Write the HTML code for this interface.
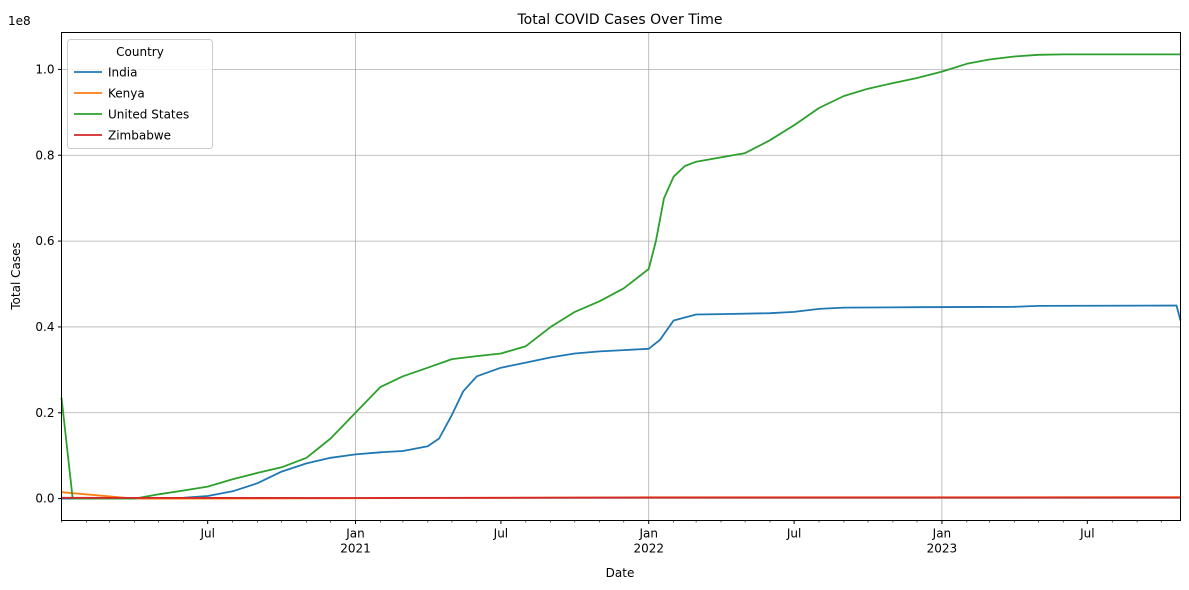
<!DOCTYPE html>
<html><head><meta charset="utf-8"><style>
body{margin:0;background:#fff;}
svg{display:block;font-family:"DejaVu Sans","Liberation Sans",sans-serif;}
</style></head><body>
<svg id="chart" width="1189" height="590" xmlns="http://www.w3.org/2000/svg">
<text x="620" y="24" font-size="14" text-anchor="middle">Total COVID Cases Over Time</text>
<g id="grid"></g>
<g id="series"></g>
<rect x="61.5" y="32.5" width="1119" height="488" fill="none" stroke="#000" stroke-width="1"/>
<g id="axes"></g>
<text x="8" y="25" font-size="12">1e8</text>
<text x="620" y="577" font-size="12" text-anchor="middle">Date</text>
<text x="20" y="276" font-size="12" text-anchor="middle" transform="rotate(-90 20 276)">Total Cases</text>
<g id="legend"></g>
</svg>
<script>
const seriesNames = ["India","Kenya","United States","Zimbabwe"];
const seriesColors = ["#1f77b4","#ff7f0e","#2ca02c","#d62728"];
// values in millions of cases
const indiaDates = ["2020-01-01","2020-04-01","2020-06-01","2020-07-01","2020-08-01","2020-09-01","2020-10-01","2020-11-01","2020-12-01","2021-01-01","2021-02-01","2021-03-01","2021-04-01","2021-04-15","2021-05-01","2021-05-15","2021-06-01","2021-07-01","2021-08-01","2021-09-01","2021-10-01","2021-11-01","2021-12-01","2022-01-01","2022-01-15","2022-02-01","2022-03-01","2022-04-01","2022-06-01","2022-07-01","2022-08-01","2022-09-01","2022-12-01","2023-04-01","2023-05-01","2023-10-20","2023-10-25"];
const indiaValues = [0,0,0.2,0.6,1.7,3.6,6.3,8.2,9.5,10.3,10.8,11.1,12.2,14,19.5,25,28.5,30.5,31.7,32.9,33.8,34.3,34.6,34.9,37,41.5,42.9,43,43.2,43.5,44.2,44.5,44.6,44.7,44.9,45,41.5];
const kenyaDates = ["2020-01-01","2020-04-01","2020-07-01","2021-01-01","2021-07-01","2022-01-01","2023-10-25"];
const kenyaValues = [1.5,0,0.01,0.1,0.2,0.3,0.34];
const usDates = ["2020-01-01","2020-01-15","2020-04-01","2020-05-01","2020-06-01","2020-07-01","2020-08-01","2020-09-01","2020-10-01","2020-11-01","2020-12-01","2021-01-01","2021-02-01","2021-03-01","2021-04-01","2021-05-01","2021-06-01","2021-07-01","2021-08-01","2021-09-01","2021-10-01","2021-11-01","2021-12-01","2022-01-01","2022-01-10","2022-01-20","2022-02-01","2022-02-15","2022-03-01","2022-04-01","2022-05-01","2022-06-01","2022-07-01","2022-08-01","2022-09-01","2022-10-01","2022-11-01","2022-12-01","2023-01-01","2023-02-01","2023-03-01","2023-04-01","2023-05-01","2023-06-01","2023-10-25"];
const usValues = [23.5,0,0,1,1.9,2.8,4.5,6,7.3,9.5,14,20,26,28.5,30.5,32.5,33.2,33.8,35.5,40,43.5,46,49,53.5,60,70,75,77.5,78.5,79.5,80.5,83.5,87,91,93.8,95.5,96.8,98,99.5,101.3,102.3,103,103.4,103.5,103.5];
const zimDates = ["2020-01-01","2021-01-01","2022-01-01","2023-10-25"];
const zimValues = [0.2,0.15,0.25,0.26];
const yTicks = [0,20,40,60,80,100];
const yTickLabels = ["0.0","0.2","0.4","0.6","0.8","1.0"];
const xMajor = ["2020-07-01","2021-01-01","2021-07-01","2022-01-01","2022-07-01","2023-01-01","2023-07-01"];
const xMajorLabels = ["Jul","Jan|2021","Jul","Jan|2022","Jul","Jan|2023","Jul"];

const NS="http://www.w3.org/2000/svg";
const t0=Date.UTC(2020,0,1), t1=Date.UTC(2023,9,25);
const X0=61.5,X1=1180.5,Y0=520.5,Y1=32.5, yMin=-5.1, yMax=108.6;
function toT(s){const p=s.split("-");return Date.UTC(+p[0],+p[1]-1,+p[2]);}
function xs(s){return X0+(toT(s)-t0)/(t1-t0)*(X1-X0);}
function ys(v){return Y0-(v-yMin)/(yMax-yMin)*(Y0-Y1);}
function mk(tag,attrs,parent){const e=document.createElementNS(NS,tag);for(const k in attrs)e.setAttribute(k,attrs[k]);parent.appendChild(e);return e;}
const grid=document.getElementById("grid"),axes=document.getElementById("axes"),ser=document.getElementById("series"),leg=document.getElementById("legend");
yTicks.forEach((v,i)=>{const y=ys(v);
 const g=mk("line",{x1:X0,x2:X1,y1:y,y2:y,stroke:"#b0b0b0","stroke-width":0.8},grid);
 
 
 const tk=mk("line",{x1:X0-3.5,x2:X0,y1:y,y2:y,stroke:"#000"},axes);
 
 
 const t=mk("text",{x:X0-7,y:y+4,"font-size":12,"text-anchor":"end"},axes);t.textContent=yTickLabels[i];
 
 
});
for(let y=2020;y<=2023;y++)for(let m=0;m<12;m++){const t=Date.UTC(y,m,1);if(t<t0||t>t1)continue;
 const x=X0+(t-t0)/(t1-t0)*(X1-X0);
 const tk=mk("line",{x1:x,x2:x,y1:Y0,y2:Y0+2,stroke:"#000","stroke-width":0.6},axes);
 
 }
xMajor.forEach((d,i)=>{const x=xs(d);
 if(xMajorLabels[i].indexOf("Jan")===0){const g=mk("line",{x1:x,x2:x,y1:Y1,y2:Y0,stroke:"#b0b0b0","stroke-width":0.8},grid);
  
  }
 const tk=mk("line",{x1:x,x2:x,y1:Y0,y2:Y0+3.5,stroke:"#000"},axes);
 
 
 const parts=xMajorLabels[i].split("|");
 parts.forEach((p,j)=>{const t=mk("text",{x:x,y:Y0+17+j*15,"font-size":12,"text-anchor":"middle"},axes);t.textContent=p;
  
  });
});
const all=[[indiaDates,indiaValues],[kenyaDates,kenyaValues],[usDates,usValues],[zimDates,zimValues]];
all.forEach((s,i)=>{const pts=s[0].map((d,j)=>xs(d).toFixed(1)+","+ys(s[1][j]).toFixed(1)).join(" ");
 const p=mk("polyline",{points:pts,fill:"none",stroke:seriesColors[i],"stroke-width":1.8,"stroke-linejoin":"round"},ser);
 
 
});
const box=mk("rect",{x:67.5,y:39.5,width:145,height:109,rx:3,fill:"#fff","fill-opacity":0.8,stroke:"#ccc"},leg);


const lt=mk("text",{x:140,y:56,"font-size":12,"text-anchor":"middle"},leg);lt.textContent="Country";


seriesNames.forEach((n,i)=>{const y=72+i*21;
 const l=mk("line",{x1:74,x2:102,y1:y,y2:y,stroke:seriesColors[i],"stroke-width":1.8},leg);
 
 
 const t=mk("text",{x:108,y:y+4.5,"font-size":12},leg);t.textContent=n;
 
 
});
</script>
</body></html>
